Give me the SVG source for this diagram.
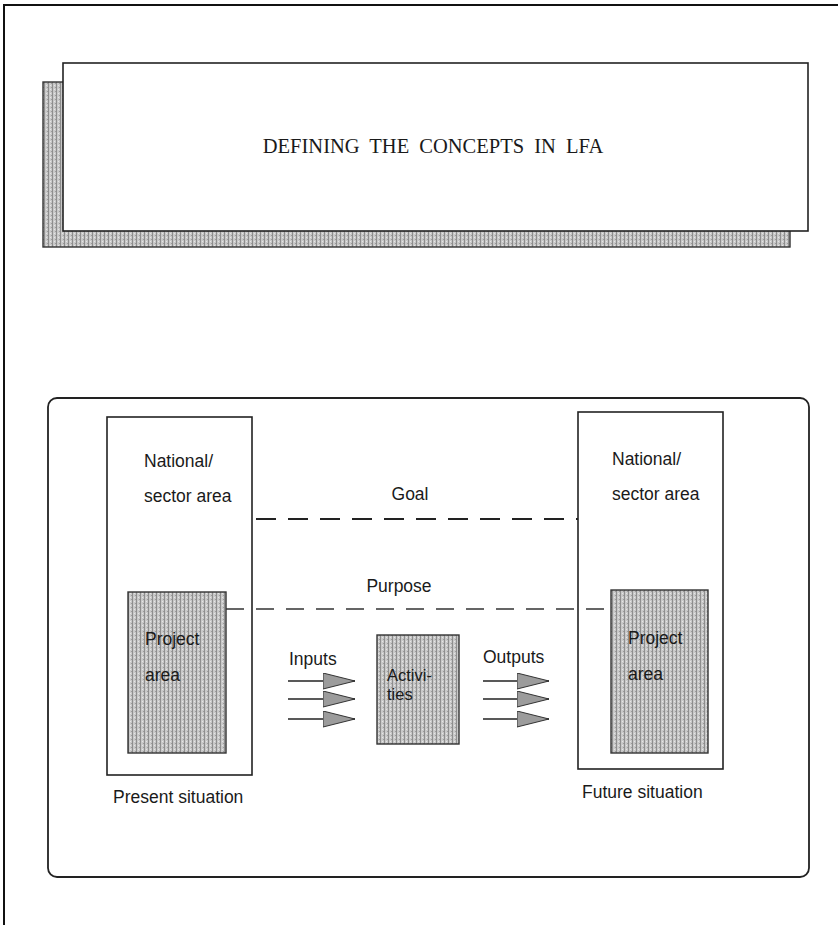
<svg xmlns="http://www.w3.org/2000/svg" width="838" height="925" viewBox="0 0 838 925">
  <style>
    .frame { fill: none; stroke: #111; stroke-width: 2; }
    .box { fill: #fff; stroke: #222; stroke-width: 1.6; }
    .shade { fill: url(#halftone); stroke: #333; stroke-width: 1.4; }
    .lbl { font-family: "Liberation Sans", Arial, sans-serif; font-size: 17.5px; fill: #1a1a1a; }
    .small { font-size: 16.5px; }
    .title { font-family: "Liberation Serif", "Times New Roman", serif; font-size: 20.5px; fill: #1a1a1a; word-spacing: 5px; }
    .dash1 { fill: none; stroke: #222; stroke-width: 2; stroke-dasharray: 20 12; }
    .dash2 { fill: none; stroke: #333; stroke-width: 1.4; stroke-dasharray: 18 12; }
    .arr { fill: none; stroke: #222; stroke-width: 1.6; marker-end: url(#head); }
  </style>
  <defs>
    <pattern id="halftone" width="4" height="4" patternUnits="userSpaceOnUse">
      <rect width="4" height="4" fill="#c8c8c8"/>
      <rect x="0" y="0" width="1" height="4" fill="#8e8e8e"/>
      <rect x="2" y="1" width="1" height="1" fill="#e6e6e6"/>
      <rect x="3" y="3" width="1" height="1" fill="#9a9a9a"/>
    </pattern>
    <marker id="head" markerUnits="userSpaceOnUse" markerWidth="34" markerHeight="18" refX="32" refY="8" orient="auto">
      <path d="M0,0 L32,8 L0,16 Z" fill="#9c9c9c" stroke="#333" stroke-width="1"/>
    </marker>
  </defs>

  <g id="page-frame">
    <path class="frame" d="M4,925 L4,5 L838,5"/>
  </g>

  <g id="title">
    <rect class="shade" x="43" y="82" width="747" height="165"/>
    <rect class="box" x="63" y="63" width="745" height="168"/>
    <text class="title" x="433" y="153" text-anchor="middle">DEFINING THE CONCEPTS IN LFA</text>
  </g>

  <g id="frame-box">
    <rect x="48" y="398" width="761" height="479" rx="9" ry="9" fill="none" stroke="#222" stroke-width="1.8"/>
  </g>

  <g id="present">
    <rect class="box" x="107" y="417" width="145" height="358"/>
    <text class="lbl" x="144" y="467">National/</text>
    <text class="lbl" x="144" y="502">sector area</text>
    <text class="lbl" x="113" y="803">Present situation</text>
  </g>
  <g id="present-project">
    <rect class="shade" x="128" y="592" width="98" height="161"/>
    <text class="lbl" x="145" y="645">Project</text>
    <text class="lbl" x="145" y="681">area</text>
  </g>

  <g id="future">
    <rect class="box" x="578" y="412" width="145" height="357"/>
    <text class="lbl" x="612" y="465">National/</text>
    <text class="lbl" x="612" y="500">sector area</text>
    <text class="lbl" x="582" y="798">Future situation</text>
  </g>
  <g id="future-project">
    <rect class="shade" x="611" y="590" width="97" height="163"/>
    <text class="lbl" x="628" y="644">Project</text>
    <text class="lbl" x="628" y="680">area</text>
  </g>

  <g id="activities">
    <rect class="shade" x="377" y="635" width="82" height="109"/>
    <text class="lbl small" x="387" y="681">Activi-</text>
    <text class="lbl small" x="387" y="700">ties</text>
  </g>

  <g id="connectors">
    <line class="dash1" x1="256" y1="519" x2="578" y2="519"/>
    <line class="dash2" x1="226" y1="609" x2="611" y2="609"/>
    <line class="arr" x1="288" y1="681" x2="355" y2="681"/>
    <line class="arr" x1="288" y1="699" x2="355" y2="699"/>
    <line class="arr" x1="288" y1="719" x2="355" y2="719"/>
    <line class="arr" x1="483" y1="681" x2="549" y2="681"/>
    <line class="arr" x1="483" y1="699" x2="549" y2="699"/>
    <line class="arr" x1="483" y1="719" x2="549" y2="719"/>
  </g>

  <g id="labels">
    <text class="lbl" x="410" y="500" text-anchor="middle">Goal</text>
    <text class="lbl" x="399" y="592" text-anchor="middle">Purpose</text>
    <text class="lbl" x="289" y="665">Inputs</text>
    <text class="lbl" x="483" y="663">Outputs</text>
  </g>
</svg>
